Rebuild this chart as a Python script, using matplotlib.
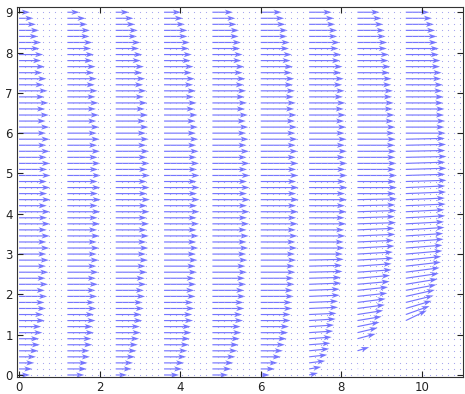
import numpy as np
import matplotlib
matplotlib.use("Agg")
import matplotlib.pyplot as plt

# grid of the velocity field (spacing 0.15)
dx = 0.15
nx = 74
ny = 61

# columns (grid index) where the profiles were sampled
col_index = [0, 8, 16, 24, 32, 40, 48, 56, 64]

# u component along each sampled column, bottom (y=0) to top (y=9)
u_cols = [
    [0.27, 0.33, 0.38, 0.42, 0.48, 0.52, 0.50, 0.58, 0.55, 0.64,
     0.60, 0.67, 0.63, 0.70, 0.64, 0.72, 0.66, 0.73, 0.67, 0.74,
     0.68, 0.75, 0.68, 0.76, 0.69, 0.77, 0.70, 0.77, 0.69, 0.78,
     0.70, 0.77, 0.69, 0.78, 0.70, 0.77, 0.69, 0.76, 0.68, 0.76,
     0.67, 0.75, 0.66, 0.74, 0.65, 0.73, 0.63, 0.71, 0.61, 0.68,
     0.58, 0.64, 0.55, 0.60, 0.51, 0.55, 0.47, 0.50, 0.42, 0.36,
     0.27],
    [0.42, 0.48, 0.50, 0.56, 0.55, 0.62, 0.60, 0.66, 0.63, 0.70,
     0.66, 0.72, 0.68, 0.74, 0.70, 0.76, 0.71, 0.77, 0.72, 0.78,
     0.73, 0.79, 0.73, 0.80, 0.74, 0.81, 0.75, 0.82, 0.75, 0.83,
     0.76, 0.82, 0.75, 0.83, 0.76, 0.82, 0.75, 0.81, 0.74, 0.80,
     0.73, 0.79, 0.72, 0.78, 0.71, 0.77, 0.70, 0.75, 0.68, 0.73,
     0.66, 0.70, 0.63, 0.66, 0.59, 0.62, 0.55, 0.56, 0.50, 0.45,
     0.30],
    [0.28, 0.40, 0.43, 0.48, 0.52, 0.55, 0.58, 0.62, 0.60, 0.66,
     0.64, 0.70, 0.67, 0.73, 0.70, 0.76, 0.72, 0.78, 0.74, 0.80,
     0.75, 0.81, 0.76, 0.82, 0.77, 0.83, 0.77, 0.84, 0.78, 0.85,
     0.78, 0.84, 0.77, 0.85, 0.78, 0.84, 0.77, 0.83, 0.76, 0.82,
     0.75, 0.81, 0.74, 0.80, 0.72, 0.78, 0.70, 0.76, 0.68, 0.73,
     0.66, 0.70, 0.62, 0.66, 0.58, 0.61, 0.53, 0.55, 0.48, 0.44,
     0.33],
    [0.37, 0.45, 0.50, 0.55, 0.58, 0.62, 0.64, 0.68, 0.66, 0.72,
     0.70, 0.75, 0.72, 0.78, 0.75, 0.80, 0.76, 0.82, 0.78, 0.83,
     0.79, 0.85, 0.80, 0.86, 0.81, 0.87, 0.81, 0.88, 0.82, 0.88,
     0.82, 0.88, 0.81, 0.88, 0.82, 0.87, 0.81, 0.86, 0.80, 0.85,
     0.79, 0.84, 0.78, 0.83, 0.76, 0.81, 0.74, 0.79, 0.72, 0.76,
     0.69, 0.73, 0.66, 0.69, 0.62, 0.64, 0.58, 0.58, 0.52, 0.47,
     0.42],
    [0.39, 0.47, 0.52, 0.57, 0.62, 0.65, 0.68, 0.72, 0.70, 0.76,
     0.74, 0.79, 0.77, 0.82, 0.79, 0.84, 0.81, 0.86, 0.82, 0.87,
     0.84, 0.89, 0.85, 0.90, 0.85, 0.91, 0.86, 0.92, 0.86, 0.93,
     0.86, 0.92, 0.86, 0.93, 0.86, 0.92, 0.85, 0.91, 0.85, 0.90,
     0.84, 0.89, 0.83, 0.88, 0.81, 0.86, 0.80, 0.84, 0.78, 0.82,
     0.75, 0.79, 0.72, 0.75, 0.69, 0.71, 0.65, 0.66, 0.60, 0.57,
     0.51],
    [0.22, 0.35, 0.42, 0.50, 0.55, 0.60, 0.64, 0.68, 0.70, 0.74,
     0.74, 0.78, 0.77, 0.82, 0.80, 0.84, 0.82, 0.86, 0.84, 0.88,
     0.85, 0.90, 0.86, 0.91, 0.87, 0.92, 0.88, 0.93, 0.88, 0.94,
     0.88, 0.94, 0.88, 0.93, 0.88, 0.93, 0.87, 0.92, 0.87, 0.91,
     0.86, 0.90, 0.85, 0.89, 0.83, 0.87, 0.82, 0.85, 0.80, 0.83,
     0.77, 0.80, 0.74, 0.77, 0.70, 0.72, 0.66, 0.67, 0.61, 0.58,
     0.52],
    [0.22, 0.30, 0.40, 0.45, 0.50, 0.53, 0.56, 0.60, 0.62, 0.66,
     0.68, 0.72, 0.72, 0.76, 0.76, 0.80, 0.79, 0.83, 0.82, 0.86,
     0.84, 0.88, 0.86, 0.90, 0.87, 0.92, 0.88, 0.93, 0.89, 0.94,
     0.89, 0.95, 0.90, 0.95, 0.90, 0.95, 0.89, 0.94, 0.89, 0.93,
     0.88, 0.92, 0.87, 0.91, 0.86, 0.90, 0.84, 0.88, 0.82, 0.86,
     0.80, 0.83, 0.77, 0.80, 0.73, 0.76, 0.70, 0.70, 0.65, 0.62,
     0.56],
    [0.03, 0.03, 0.00, 0.00, 0.29, 0.00, 0.45, 0.50, 0.55, 0.60,
     0.64, 0.68, 0.70, 0.74, 0.76, 0.80, 0.81, 0.85, 0.85, 0.89,
     0.88, 0.92, 0.90, 0.94, 0.92, 0.96, 0.93, 0.97, 0.94, 0.98,
     0.94, 0.98, 0.95, 0.98, 0.94, 0.97, 0.94, 0.96, 0.93, 0.95,
     0.92, 0.94, 0.90, 0.92, 0.88, 0.90, 0.86, 0.88, 0.84, 0.85,
     0.80, 0.82, 0.77, 0.78, 0.73, 0.74, 0.70, 0.68, 0.64, 0.60,
     0.55],
    [0.00, 0.00, 0.00, 0.00, 0.00, 0.00, 0.00, 0.00, 0.00, 0.52,
     0.59, 0.64, 0.69, 0.72, 0.76, 0.79, 0.82, 0.84, 0.87, 0.88,
     0.91, 0.91, 0.94, 0.93, 0.96, 0.95, 0.98, 0.96, 0.99, 0.97,
     1.00, 0.98, 1.01, 0.98, 1.01, 0.98, 1.01, 0.98, 1.00, 0.97,
     0.99, 0.96, 0.98, 0.95, 0.96, 0.93, 0.94, 0.91, 0.92, 0.88,
     0.89, 0.85, 0.86, 0.82, 0.82, 0.78, 0.77, 0.73, 0.70, 0.65,
     0.58],
]

# v component along the last three columns (others are ~0)
v_col6 = [0.05, 0.05, 0.05, 0.05, 0.05, 0.04, 0.04, 0.04, 0.04, 0.04,
          0.03, 0.03, 0.03, 0.03, 0.03, 0.03, 0.02, 0.02, 0.02, 0.02] + [0.0] * 41
v_col7 = [0.00, 0.00, 0.00, 0.00, 0.09, 0.00, 0.12, 0.12, 0.11, 0.10,
          0.10, 0.09, 0.09, 0.08, 0.08, 0.07, 0.07, 0.06, 0.06, 0.05,
          0.05, 0.05, 0.04, 0.04, 0.04, 0.03, 0.03, 0.03, 0.02, 0.02] + [0.0] * 31
v_col8 = [0.00, 0.00, 0.00, 0.00, 0.00, 0.00, 0.00, 0.00, 0.00, 0.25,
          0.21, 0.19, 0.17, 0.16, 0.14, 0.13, 0.12, 0.11, 0.10, 0.09,
          0.08, 0.07, 0.07, 0.06, 0.06, 0.05, 0.05, 0.05, 0.04, 0.04,
          0.04, 0.04, 0.03, 0.03, 0.03, 0.03, 0.02, 0.02, 0.02, 0.02] + [0.0] * 21

xticks = [0, 2, 4, 6, 8, 10]
yticks = [0, 1, 2, 3, 4, 5, 6, 7, 8, 9]

X, Y = np.meshgrid(np.arange(nx) * dx, np.arange(ny) * dx)
U = np.zeros((ny, nx))
V = np.zeros((ny, nx))
for i, c in enumerate(col_index):
    U[:, c] = u_cols[i]
V[:, col_index[6]] = v_col6
V[:, col_index[7]] = v_col7
V[:, col_index[8]] = v_col8

fig = plt.figure(figsize=(4.65, 3.94), dpi=100)
ax = fig.add_axes([17 / 465, 17 / 394, 446 / 465, 370 / 394])

moving = (U != 0) | (V != 0)
ax.quiver(X[moving], Y[moving], U[moving], V[moving],
          angles='xy', scale_units='xy', scale=1,
          color='#3a3aff', alpha=0.7, width=0.0026,
          headwidth=4.5, headlength=7, headaxislength=5.5)
# resting points show up as dots
ax.scatter(X[~moving], Y[~moving], s=0.7, color='#a0a0ee', linewidths=0)

ax.set_xlim(-0.05, 11.02)
ax.set_ylim(-0.05, 9.13)
ax.set_xticks(xticks)
ax.set_yticks(yticks)
ax.tick_params(direction='in', top=True, right=True, length=4,
               labelsize=8.5, colors='#222222', pad=3)
for s in ax.spines.values():
    s.set_color('#333333')
    s.set_linewidth(0.8)

fig.savefig("out.png", dpi=100)
